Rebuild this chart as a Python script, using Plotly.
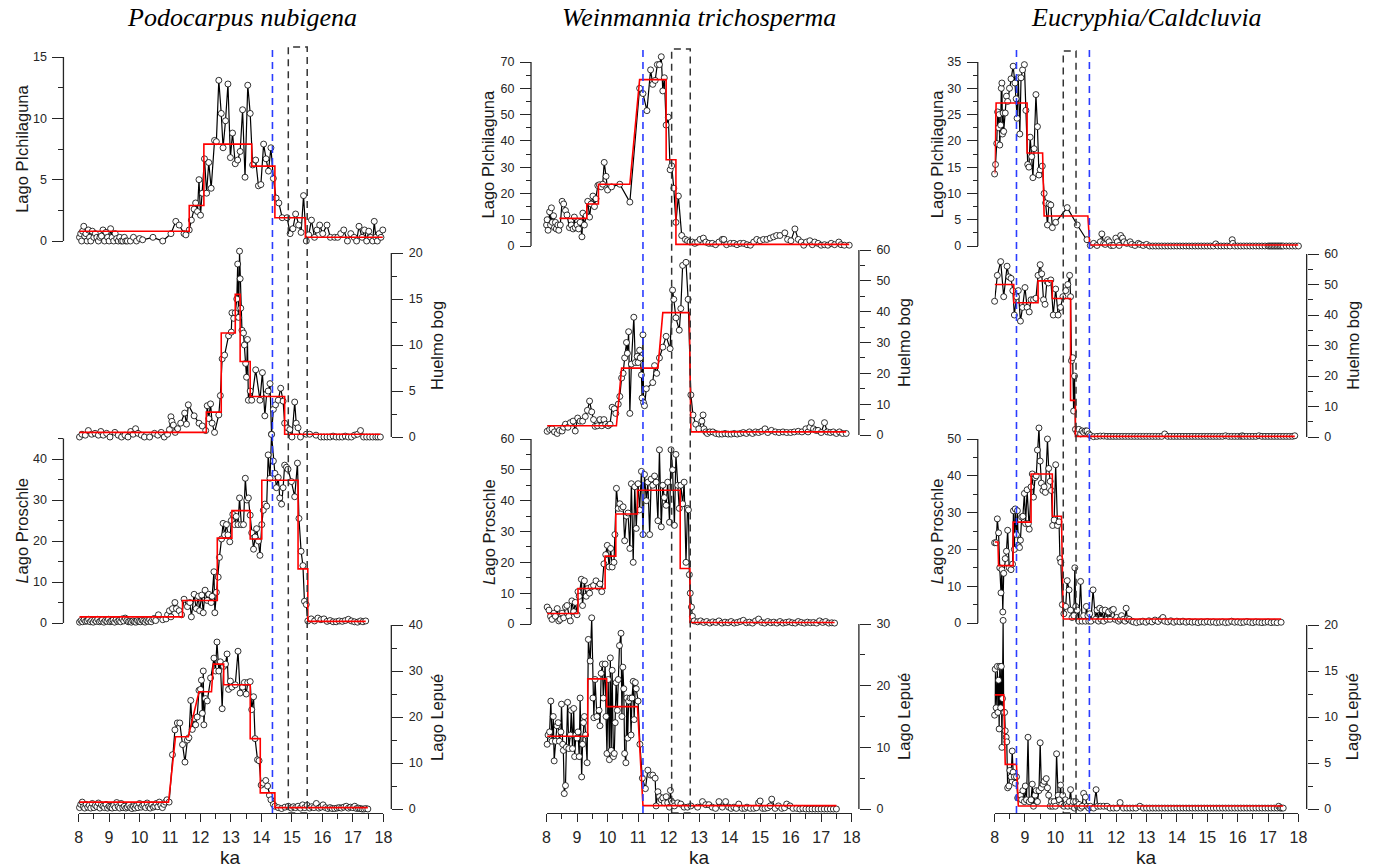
import plotly.graph_objects as go

W, H = 1384, 868

# ------------------------------------------------------------------ data
# (age ka, percent) pairs
pod_pich = [(8.03,0.3),(8.07,0.6),(8.10,0),(8.13,0.8),(8.17,1.2),(8.20,0.4),(8.24,0.6),(8.28,0),(8.32,0.9),(8.36,0.3),
 (8.40,0),(8.45,0.8),(8.50,0.3),(8.55,0.6),(8.60,0.3),(8.65,0),(8.70,0.3),(8.75,0.4),(8.80,0.9),(8.85,0),
 (8.90,0.7),(8.95,0.3),(9.00,0),(9.05,1.0),(9.10,0.3),(9.15,0),(9.20,0.6),(9.25,0.2),(9.30,0),(9.35,0.3),
 (9.40,0),(9.45,0),(9.50,0.3),(9.55,0),(9.60,0),(9.70,0),(9.80,0.3),(9.90,0),(10.00,0.2),(10.10,0.1),
 (10.44,0.3),(10.76,0),(11.03,0.6),(11.19,1.6),(11.30,1.3),(11.46,0.6),(11.52,0.5),(11.63,0.9),(11.70,1.7),(11.79,2.6),
 (11.84,3.1),(11.90,2.4),(11.95,5.0),(12.00,2.1),(12.06,3.9),(12.13,6.7),(12.20,3.9),(12.27,6.4),(12.35,4.3),(12.46,8.2),
 (12.52,8.1),(12.60,13.1),(12.68,10.4),(12.74,7.6),(12.82,9.8),(12.90,12.8),(12.98,6.8),(13.05,8.8),(13.14,6.3),(13.22,6.6),
 (13.30,7.3),(13.38,10.7),(13.46,5.2),(13.55,12.7),(13.63,10.4),(13.71,6.2),(13.81,6.6),(13.90,4.5),(13.98,4.6),(14.07,7.9),
 (14.15,6.7),(14.23,5.7),(14.31,7.6),(14.39,5.1),(14.48,3.5),(14.57,3.1),(14.68,1.9),(14.84,1.9),(14.94,0.6),(15.03,1.0),
 (15.12,2.2),(15.22,1.3),(15.30,0.7),(15.38,3.7),(15.47,0),(15.55,0.5),(15.64,1.7),(15.74,0.3),(15.82,0.9),(15.91,1.3),
 (16.01,0.6),(16.15,1.3),(16.26,0.3),(16.40,0.3),(16.50,0.3),(16.60,0.6),(16.70,0.9),(16.82,0),(16.93,0.6),(17.04,0.3),
 (17.12,0),(17.20,1.2),(17.30,0.3),(17.38,0.9),(17.45,0),(17.52,0.8),(17.58,0.3),(17.65,0),(17.70,1.6),(17.75,0.3),
 (17.80,0),(17.86,0.6),(17.92,0.3),(17.98,0.9)]
pod_pich_zone = [(8.03,0.8),(11.63,0.8),(11.63,2.9),(12.11,2.9),(12.11,7.9),(13.68,7.9),(13.68,6.1),(14.44,6.1),
 (14.44,1.9),(15.44,1.9),(15.44,0.3),(17.98,0.3)]

pod_huel = [(8.03,0),(8.11,0.3),(8.22,0.2),(8.32,0.7),(8.43,0.3),(8.54,0.4),(8.65,0.2),(8.73,0.6),(8.81,0.2),(8.92,0.4),
 (9.03,0),(9.19,0.5),(9.30,0.2),(9.41,0),(9.52,0.2),(9.62,0),(9.71,0.6),(9.79,0.3),(9.87,0.9),(9.95,0.4),
 (10.06,0.2),(10.16,0),(10.33,0),(10.49,0.4),(10.60,0.2),(10.71,0.5),(10.81,0),(10.92,0.3),(10.98,0.8),(11.03,2.2),
 (11.06,1.7),(11.11,1.3),(11.17,0.5),(11.25,0.9),(11.35,1.5),(11.48,2.6),(11.54,1.4),(11.60,3.5),(11.79,2.3),(11.95,1.5),
 (12.06,1.2),(12.17,0.7),(12.22,3.4),(12.27,2.0),(12.33,3.6),(12.38,1.5),(12.46,0.5),(12.60,2.4),(12.65,4.5),(12.71,8.5),
 (12.79,8.9),(12.92,11.0),(13.01,11.4),(13.03,13.5),(13.09,12.9),(13.14,13.5),(13.19,15.0),(13.22,18.8),(13.25,13.0),(13.28,20.2),
 (13.30,17.2),(13.32,14.0),(13.36,11.6),(13.41,11.3),(13.44,10.0),(13.48,8.0),(13.51,6.5),(13.54,10.6),(13.57,4.0),(13.63,5.0),
 (13.68,4.0),(13.81,7.3),(13.95,4.0),(14.03,7.0),(14.11,2.3),(14.17,4.7),(14.22,5.0),(14.28,5.8),(14.33,0.3),(14.39,3.0),
 (14.46,3.5),(14.55,4.0),(14.63,5.3),(14.71,3.9),(14.76,1.5),(14.85,1.0),(14.93,0.8),(15.00,0),(15.09,3.8),(15.14,1.5),
 (15.20,1.0),(15.28,0),(15.47,0.3),(15.58,0.3),(15.79,0.2),(15.95,0),(16.05,0),(16.15,0),(16.25,0),(16.35,0.1),
 (16.45,0),(16.55,0),(16.65,0),(16.75,0.1),(16.85,0),(16.95,0),(17.05,0.2),(17.15,0.3),(17.25,0.7),(17.35,0),
 (17.45,0),(17.55,0),(17.65,0),(17.75,0),(17.82,0),(17.90,0)]
pod_huel_zone = [(8.03,0.5),(12.19,0.5),(12.19,2.7),(12.68,2.7),(12.68,11.3),(13.14,11.3),(13.14,15.5),(13.30,15.5),
 (13.30,8.2),(13.63,8.2),(13.63,4.4),(14.76,4.4),(14.76,0.3),(17.90,0.3)]

pod_pros = [(8.03,0.2),(8.08,0.6),(8.13,0.3),(8.18,0.8),(8.23,0.4),(8.28,0.5),(8.33,0.9),(8.38,0.3),(8.43,0.6),(8.48,0.2),
 (8.53,0.7),(8.58,0.4),(8.63,0.9),(8.68,0.3),(8.73,0.5),(8.78,0.8),(8.83,0.2),(8.88,0.6),(8.93,0.4),(8.98,0.9),
 (9.03,0.3),(9.08,0.5),(9.13,0.7),(9.18,0.2),(9.23,0.8),(9.28,0.4),(9.33,0.6),(9.38,0.3),(9.43,1.0),(9.48,0.5),
 (9.53,1.2),(9.58,0.6),(9.63,0.3),(9.68,0.4),(9.73,0.2),(9.78,0.5),(9.83,0.3),(9.88,0.2),(9.93,0.6),(9.98,0.4),
 (10.03,0.3),(10.08,0.7),(10.13,0.5),(10.18,0.2),(10.23,0.6),(10.28,0.4),(10.33,0.8),(10.38,0.3),(10.43,0.9),(10.48,1.1),
 (10.53,0.6),(10.62,2.0),(10.76,0.8),(10.87,1.0),(10.92,2.0),(10.98,3.0),(11.03,1.5),(11.08,3.5),(11.16,5.0),(11.21,3.5),
 (11.30,3.0),(11.38,2.0),(11.46,5.8),(11.57,4.0),(11.65,5.0),(11.70,1.5),(11.79,7.0),(11.86,3.5),(11.93,6.5),(11.97,3.0),
 (12.04,6.8),(12.09,2.5),(12.15,8.0),(12.22,5.5),(12.27,7.0),(12.35,5.0),(12.38,6.5),(12.44,12.5),(12.47,2.5),(12.52,7.5),
 (12.58,11.2),(12.62,16.0),(12.69,20.5),(12.74,24.3),(12.79,21.5),(12.85,24.0),(12.90,21.5),(12.96,19.8),(13.01,25.0),(13.06,26.5),
 (13.12,24.0),(13.17,26.0),(13.23,24.0),(13.28,30.5),(13.34,24.0),(13.41,24.0),(13.47,35.3),(13.52,30.0),(13.57,30.5),(13.63,26.3),
 (13.68,22.0),(13.74,18.0),(13.79,21.0),(13.84,23.0),(13.90,20.0),(13.95,16.5),(14.01,24.0),(14.06,27.5),(14.11,29.0),(14.17,28.5),
 (14.22,41.0),(14.28,35.3),(14.33,46.0),(14.39,39.5),(14.44,36.5),(14.49,33.0),(14.55,35.5),(14.60,30.5),(14.66,29.0),(14.71,33.0),
 (14.76,38.5),(14.82,38.0),(14.87,37.5),(14.98,34.5),(15.09,30.8),(15.18,39.0),(15.23,25.5),(15.30,17.5),(15.36,14.0),(15.41,5.3),
 (15.47,4.5),(15.52,0.5),(15.63,1.0),(15.74,0.5),(15.85,1.2),(15.95,0.8),(16.05,1.0),(16.15,0.4),(16.25,0.6),(16.35,0.3),
 (16.45,0.3),(16.55,0.5),(16.65,0.4),(16.75,0.6),(16.85,0.9),(16.95,0.5),(17.05,0.3),(17.15,0.2),(17.25,0.5),(17.33,0.3),
 (17.42,0.5)]
pod_pros_zone = [(8.03,1.5),(11.41,1.5),(11.41,5.5),(12.55,5.5),(12.55,20.7),(13.03,20.7),(13.03,27.4),(13.63,27.4),
 (13.63,20.5),(14.01,20.5),(14.01,34.8),(15.20,34.8),(15.20,13.2),(15.52,13.2),(15.52,0.4),(17.42,0.4)]

pod_lepu = [(8.03,0.3),(8.07,1.0),(8.12,1.5),(8.16,0.5),(8.20,0.2),(8.25,1.0),(8.30,0.4),(8.35,0.8),(8.40,0.2),(8.45,1.2),
 (8.50,0.3),(8.55,0.8),(8.60,0.5),(8.65,1.3),(8.70,0.2),(8.75,0.9),(8.80,0.6),(8.85,0.3),(8.90,1.0),(8.95,0.2),
 (9.00,0.6),(9.05,0.4),(9.10,0.2),(9.15,0.8),(9.20,0.3),(9.25,1.4),(9.30,0.5),(9.35,0.2),(9.40,1.2),(9.45,0.3),
 (9.50,0.6),(9.55,0.2),(9.60,0.4),(9.65,0.8),(9.70,0.3),(9.75,0.1),(9.80,0.5),(9.85,0.2),(9.90,0.7),(9.95,0.3),
 (10.00,1.2),(10.05,0.4),(10.10,0.8),(10.15,1.0),(10.20,0.3),(10.25,1.3),(10.30,0.5),(10.35,0.2),(10.40,0.9),(10.45,0.4),
 (10.50,0.6),(10.55,1.2),(10.60,0.5),(10.65,1.5),(10.70,0.8),(10.75,0.3),(10.80,1.0),(10.85,1.5),(10.90,2.0),(10.97,1.5),
 (11.08,11.8),(11.16,17.2),(11.24,18.7),(11.32,18.7),(11.41,14.0),(11.49,10.2),(11.57,15.0),(11.62,15.5),(11.68,23.6),(11.73,17.3),
 (11.79,19.7),(11.84,18.3),(11.89,20.0),(11.95,25.8),(12.00,26.0),(12.03,28.0),(12.06,20.8),(12.09,30.0),(12.11,18.3),(12.16,24.0),
 (12.22,23.5),(12.33,28.5),(12.44,32.8),(12.49,30.0),(12.54,36.3),(12.60,30.0),(12.65,32.0),(12.71,21.8),(12.76,31.0),(12.82,31.5),
 (12.87,33.7),(12.92,26.0),(12.98,27.8),(13.03,26.5),(13.14,27.0),(13.23,34.3),(13.30,25.2),(13.38,26.5),(13.44,27.5),(13.50,25.0),
 (13.55,27.5),(13.63,27.7),(13.68,21.6),(13.74,24.4),(13.79,15.3),(13.87,10.7),(13.92,10.5),(13.99,5.2),(14.06,5.6),(14.14,6.2),
 (14.20,5.0),(14.26,3.0),(14.31,2.0),(14.39,1.0),(14.44,0.6),(14.55,0.3),(14.66,0.1),(14.77,0.4),(14.88,0.6),(14.98,0.2),
 (15.05,0.5),(15.12,0.3),(15.20,0.6),(15.28,0.2),(15.35,0.9),(15.42,0.3),(15.50,0.8),(15.58,0.2),(15.65,0.5),(15.72,0.3),
 (15.80,1.2),(15.88,0.2),(15.95,0.4),(16.02,0.9),(16.10,0.3),(16.18,0.1),(16.25,0.3),(16.32,0.1),(16.40,0.1),(16.48,0.2),
 (16.55,0.3),(16.62,0.2),(16.70,0.4),(16.78,0.6),(16.85,0.2),(16.92,0.4),(17.00,0.3),(17.06,0.6),(17.12,0.1),(17.18,0.2),
 (17.24,0.1),(17.30,0),(17.36,0),(17.42,0.1),(17.49,0)]
pod_lepu_zone = [(8.03,1.5),(10.95,1.5),(11.18,15.7),(11.60,15.7),(11.95,25.5),(12.36,25.5),(12.42,31.5),(12.76,31.5),
 (12.76,27.0),(13.63,27.0),(13.63,15.3),(13.96,15.3),(13.96,3.5),(14.44,3.5),(14.44,0.3),(17.49,0.3)]

wei_pich = [(8.00,8),(8.02,10),(8.05,6),(8.10,13),(8.13,8),(8.16,14.5),(8.19,9),(8.23,11.5),(8.26,7),(8.29,9),
 (8.32,6.5),(8.37,8),(8.40,6),(8.45,8),(8.51,17),(8.56,16),(8.62,13.5),(8.67,11.8),(8.75,7),(8.81,8),
 (8.87,6.5),(8.91,11),(8.94,7),(9.00,8),(9.05,6.5),(9.10,9),(9.16,3.5),(9.19,12.5),(9.24,8),(9.30,11.5),
 (9.35,17),(9.41,11),(9.46,16),(9.52,19),(9.57,15),(9.62,18),(9.68,23),(9.73,23.3),(9.79,22.5),(9.84,23.5),
 (9.89,31.8),(9.95,26.5),(10.00,21.3),(10.13,22.5),(10.40,23.5),(10.73,16.7),(11.05,60),(11.16,58),(11.29,51.5),(11.41,67),
 (11.48,61.5),(11.56,63),(11.63,69),(11.70,69),(11.76,72),(11.81,59),(11.86,64),(11.92,46),(11.99,49),(12.05,29),
 (12.10,30.5),(12.17,22),(12.24,9),(12.32,19),(12.43,4),(12.55,2.5),(12.62,2),(12.70,1.5),(12.78,1.5),(12.86,1),
 (12.95,1.5),(13.03,2.5),(13.14,3),(13.22,1.5),(13.32,1),(13.43,1),(13.54,0.5),(13.65,1.5),(13.76,2.5),(13.81,2.5),
 (13.90,0.5),(14.03,1),(14.14,1),(14.24,0.5),(14.35,1),(14.46,1),(14.57,0.5),(14.68,0.3),(14.79,1.5),(14.89,2.5),
 (15.00,2),(15.11,2.5),(15.22,2.5),(15.33,3),(15.44,3.5),(15.54,4),(15.65,4),(15.81,5),(15.90,2.5),(16.01,2),
 (16.14,6.5),(16.25,2.5),(16.35,1.5),(16.43,0.3),(16.52,1.5),(16.63,2),(16.71,0.5),(16.79,1.5),(16.90,1),(17.00,0.3),
 (17.11,0.5),(17.22,0.3),(17.33,1),(17.44,0.5),(17.58,1.5),(17.65,0.5),(17.76,0.3),(17.92,0.3)]
wei_pich_zone = [(8.42,10.5),(9.32,10.5),(9.32,16.0),(9.70,16.0),(9.70,23.5),(10.73,23.5),(11.05,63.3),(11.92,63.3),
 (11.92,32.8),(12.24,32.8),(12.24,0.6),(17.92,0.6)]

wei_huel = [(8.02,1.2),(8.10,1.8),(8.18,2.0),(8.26,1.0),(8.35,0.5),(8.42,1.5),(8.51,1.3),(8.56,2.5),(8.62,3.5),(8.70,2.5),
 (8.78,4.0),(8.87,4.5),(8.94,1.3),(9.02,5.5),(9.10,4.5),(9.18,4.5),(9.27,6.0),(9.34,8.0),(9.41,11.0),(9.48,7.5),
 (9.54,5.0),(9.59,2.8),(9.67,3.0),(9.75,5.0),(9.81,3.0),(9.88,5.0),(9.94,3.5),(10.02,3.0),(10.08,3.5),(10.15,9.0),
 (10.22,8.5),(10.27,7.0),(10.35,10.0),(10.40,12.5),(10.46,18.5),(10.51,20.0),(10.56,25.0),(10.62,30.0),(10.65,26.5),(10.69,33.5),
 (10.73,7.0),(10.78,23.0),(10.86,38.2),(10.91,23.5),(10.97,25.5),(11.00,23.5),(11.05,27.5),(11.07,25.0),(11.11,19.5),(11.13,12.0),
 (11.16,32.5),(11.18,10.5),(11.21,9.5),(11.27,15.0),(11.48,17.0),(11.54,22.5),(11.61,20.0),(11.70,25.0),(11.81,28.5),(11.92,32.0),
 (12.05,28.0),(12.13,47.0),(12.17,44.0),(12.24,38.0),(12.35,34.0),(12.40,41.0),(12.46,55.0),(12.57,56.0),(12.64,44.0),(12.73,13.0),
 (12.80,6.5),(12.89,3.5),(12.99,2.0),(13.09,4.5),(13.13,6.5),(13.16,2.0),(13.22,1.0),(13.27,0.5),(13.35,1.0),(13.45,1.0),
 (13.55,0.5),(13.65,0.3),(13.75,0.3),(13.85,0.5),(13.95,0.3),(14.05,0.3),(14.15,0.5),(14.25,0.3),(14.35,0.5),(14.45,0.8),
 (14.55,0.5),(14.65,1.0),(14.75,0.5),(14.85,1.0),(14.95,0.8),(15.05,1.2),(15.16,2.0),(15.25,0.8),(15.37,1.5),(15.50,1.0),
 (15.62,0.8),(15.75,1.0),(15.87,0.8),(16.00,0.8),(16.12,1.0),(16.25,1.2),(16.37,1.0),(16.50,2.0),(16.57,1.0),(16.63,2.5),
 (16.68,4.0),(16.75,2.0),(16.83,1.5),(16.90,1.5),(17.00,0.8),(17.11,4.0),(17.20,1.0),(17.30,0.8),(17.40,1.0),(17.50,0.5),
 (17.60,1.0),(17.70,0.5),(17.82,0.5)]
wei_huel_zone = [(8.02,3.0),(10.29,3.0),(10.46,21.7),(11.65,21.7),(11.81,39.7),(12.68,39.7),(12.73,1.0),(17.82,1.0)]

wei_pros = [(8.02,5.5),(8.08,4.5),(8.13,2.5),(8.18,1.5),(8.24,3.5),(8.29,2.5),(8.35,5.0),(8.40,1.0),(8.45,1.5),(8.51,3.5),
 (8.56,2.0),(8.62,5.5),(8.67,6.0),(8.73,2.5),(8.78,1.0),(8.83,7.5),(8.89,4.0),(8.94,7.0),(9.00,3.0),(9.03,10.5),
 (9.07,9.0),(9.14,14.5),(9.18,6.0),(9.24,14.0),(9.30,9.0),(9.35,11.5),(9.41,10.0),(9.46,12.0),(9.54,12.5),(9.62,14.0),
 (9.70,12.0),(9.75,13.0),(9.81,10.5),(9.88,19.5),(9.94,22.5),(9.99,25.5),(10.05,18.5),(10.10,24.5),(10.15,18.5),(10.21,20.0),
 (10.24,29.0),(10.29,44.0),(10.35,37.5),(10.40,39.0),(10.46,37.5),(10.51,38.0),(10.56,27.0),(10.62,35.0),(10.67,36.0),(10.73,24.5),
 (10.78,45.5),(10.84,20.0),(10.89,44.5),(10.94,31.0),(11.00,45.5),(11.05,37.0),(11.11,49.5),(11.16,29.0),(11.21,48.5),(11.27,40.0),
 (11.32,46.0),(11.38,29.0),(11.43,47.0),(11.48,45.0),(11.54,48.0),(11.59,46.0),(11.65,33.5),(11.70,56.5),(11.76,31.5),(11.81,45.0),
 (11.86,41.0),(11.92,38.5),(11.97,46.0),(12.03,33.0),(12.08,56.5),(12.13,50.0),(12.19,32.0),(12.24,55.0),(12.30,45.0),(12.35,37.5),
 (12.40,45.0),(12.46,39.0),(12.51,46.0),(12.57,20.0),(12.62,37.5),(12.65,37.0),(12.68,16.0),(12.71,10.0),(12.75,5.5),(12.78,2.5),
 (12.84,1.0),(12.95,0.7),(13.05,1.0),(13.15,0.5),(13.25,0.8),(13.35,0.3),(13.45,0.7),(13.55,0.5),(13.65,1.0),(13.75,0.3),
 (13.85,0.6),(13.95,0.4),(14.05,0.8),(14.15,0.3),(14.25,0.5),(14.35,0.8),(14.45,1.2),(14.55,0.4),(14.65,0.6),(14.75,0.3),
 (14.85,1.0),(14.95,1.6),(15.05,0.5),(15.15,0.3),(15.25,0.8),(15.35,0.4),(15.45,0.6),(15.55,0.3),(15.65,0.8),(15.75,0.3),
 (15.85,0.5),(15.95,0.7),(16.05,0.4),(16.15,0.3),(16.25,0.8),(16.35,0.5),(16.45,0.3),(16.55,0.6),(16.65,0.4),(16.75,0.5),
 (16.85,0.3),(16.95,1.0),(17.05,0.5),(17.15,0.8),(17.25,0.3),(17.35,0.4),(17.44,0.3)]
wei_pros_zone = [(8.02,3.4),(9.03,3.4),(9.03,11.5),(9.92,11.5),(9.92,22.0),(10.27,22.0),(10.27,35.7),(10.98,35.7),
 (10.98,43.4),(12.38,43.4),(12.38,18.0),(12.70,18.0),(12.70,0.5),(17.44,0.5)]

wei_lepu = [(8.02,10.5),(8.05,12.0),(8.10,12.5),(8.14,17.5),(8.18,11.0),(8.22,15.0),(8.25,7.8),(8.29,11.0),(8.34,13.5),(8.38,14.0),
 (8.42,11.0),(8.47,12.5),(8.49,17.0),(8.53,10.5),(8.55,9.5),(8.58,2.5),(8.62,3.8),(8.65,10.0),(8.69,17.3),(8.73,9.8),
 (8.78,12.0),(8.81,16.0),(8.85,9.8),(8.89,16.3),(8.92,8.5),(8.96,12.0),(9.00,11.5),(9.03,12.5),(9.07,8.5),(9.10,18.0),
 (9.15,5.2),(9.18,10.5),(9.21,14.0),(9.24,15.0),(9.28,12.0),(9.33,7.5),(9.37,27.5),(9.43,24.0),(9.48,31.0),(9.52,18.0),
 (9.55,14.8),(9.59,21.0),(9.65,15.0),(9.72,16.0),(9.75,13.5),(9.79,22.0),(9.83,23.5),(9.86,18.0),(9.92,23.5),(9.95,15.0),
 (9.98,9.0),(10.02,21.0),(10.06,8.0),(10.09,24.5),(10.12,9.5),(10.15,22.5),(10.19,8.5),(10.22,9.0),(10.25,14.0),(10.28,20.5),
 (10.32,16.0),(10.35,21.0),(10.39,26.5),(10.44,28.5),(10.47,15.0),(10.50,23.0),(10.53,19.5),(10.56,9.0),(10.60,7.5),(10.63,18.0),
 (10.66,11.5),(10.69,17.5),(10.74,18.0),(10.77,12.0),(10.80,18.0),(10.84,20.7),(10.87,14.5),(10.91,20.5),(10.94,19.5),(11.00,17.5),
 (11.06,10.5),(11.14,5.0),(11.24,3.3),(11.32,6.3),(11.41,5.5),(11.48,5.5),(11.56,5.0),(11.59,0.5),(11.65,2.8),(11.70,2.0),
 (11.76,1.5),(11.81,1.8),(11.86,1.0),(11.92,2.0),(11.97,1.0),(12.03,0.3),(12.06,3.0),(12.09,1.3),(12.13,1.0),(12.19,0.5),
 (12.30,1.0),(12.40,0.8),(12.51,0.3),(12.62,0.3),(12.73,0.5),(12.95,0.3),(13.11,1.2),(13.22,0.7),(13.32,0.7),(13.43,0.3),
 (13.54,0.1),(13.65,1.2),(13.76,0.3),(13.87,1.2),(13.97,0.3),(14.05,0.1),(14.14,0.3),(14.22,0.1),(14.30,0.8),(14.41,0.1),
 (14.50,0.1),(14.57,0.3),(14.68,0.1),(14.79,0.1),(14.88,0.2),(14.95,1.0),(15.00,1.3),(15.08,0.1),(15.16,0.1),(15.25,0.2),
 (15.33,0.5),(15.38,1.6),(15.49,0.1),(15.60,0.5),(15.71,0.1),(15.80,0.2),(15.87,0.8),(15.98,0.5),(16.08,0.1),(16.20,0.1),
 (16.30,0),(16.40,0.1),(16.50,0),(16.60,0),(16.70,0),(16.80,0),(16.90,0),(17.00,0),(17.10,0),(17.20,0),
 (17.30,0),(17.40,0),(17.50,0)]
wei_lepu_zone = [(8.02,11.8),(9.35,11.8),(9.35,21.1),(9.97,21.1),(9.97,16.6),(10.98,16.6),(11.16,0.55),(17.50,0.55)]

euc_pich = [(8.00,13.7),(8.03,15.5),(8.07,19.5),(8.10,25.5),(8.13,22.5),(8.15,25.0),(8.17,19.2),(8.20,23.0),(8.22,30.0),(8.24,31.0),
 (8.26,21.3),(8.28,25.3),(8.30,21.8),(8.35,25.3),(8.39,28.5),(8.43,27.5),(8.49,30.0),(8.54,31.8),(8.61,34.2),(8.67,31.0),
 (8.71,28.0),(8.74,24.3),(8.78,32.0),(8.83,21.3),(8.87,32.0),(8.92,33.5),(8.98,34.5),(9.03,25.8),(9.09,15.5),(9.13,15.0),
 (9.17,20.7),(9.22,17.0),(9.26,13.0),(9.30,18.5),(9.36,28.8),(9.41,22.7),(9.46,13.5),(9.50,14.5),(9.57,15.2),(9.63,10.0),
 (9.68,8.2),(9.74,4.0),(9.79,8.0),(9.85,7.8),(9.90,3.5),(10.01,4.5),(10.39,7.3),(10.72,4.0),(11.04,1.2),(11.15,0.1),
 (11.26,0.5),(11.37,0.1),(11.48,0.8),(11.53,2.3),(11.59,0.5),(11.64,0.3),(11.72,1.2),(11.77,0.8),(11.83,0.1),(11.91,0.1),
 (11.99,1.5),(12.04,0.8),(12.10,0.1),(12.15,2.0),(12.21,1.5),(12.26,0.8),(12.35,0.5),(12.46,0.8),(12.51,0.3),(12.62,0.1),
 (12.73,0.5),(12.78,0.3),(12.89,0.1),(13.00,0.3),(13.10,0),(13.20,0),(13.30,0),(13.40,0),(13.50,0),(13.60,0),
 (13.70,0),(13.80,0),(13.90,0),(14.00,0),(14.10,0),(14.20,0),(14.30,0),(14.40,0),(14.50,0),(14.60,0),
 (14.70,0),(14.80,0),(14.90,0),(15.00,0),(15.10,0),(15.20,0),(15.28,0.4),(15.35,0),(15.45,0),(15.55,0),
 (15.65,0),(15.75,0),(15.82,1.2),(15.84,0.5),(15.90,0),(16.00,0),(16.10,0),(16.20,0),(16.30,0),(16.40,0),
 (16.50,0),(16.60,0),(16.70,0),(16.80,0),(16.90,0),(17.00,0),(17.05,0),(17.10,0),(17.15,0),(17.20,0),
 (17.25,0),(17.30,0),(17.35,0),(17.40,0),(17.45,0),(17.50,0),(17.60,0),(17.70,0),(17.80,0),(17.90,0),
 (18.00,0)]
euc_pich_zone = [(8.00,13.8),(8.05,27.2),(9.07,27.2),(9.07,17.7),(9.58,17.7),(9.63,5.7),(11.07,5.7),(11.13,0.2),(18.00,0.2)]

euc_huel = [(8.00,44.5),(8.09,53.0),(8.20,57.5),(8.30,46.0),(8.41,56.0),(8.47,52.5),(8.54,52.0),(8.60,48.0),(8.65,40.0),(8.72,46.0),
 (8.78,48.0),(8.85,38.0),(8.92,42.5),(9.00,49.0),(9.07,42.5),(9.14,41.0),(9.20,45.0),(9.28,45.0),(9.36,45.5),(9.43,53.0),
 (9.50,56.5),(9.55,53.5),(9.61,45.0),(9.66,43.5),(9.72,51.0),(9.77,50.5),(9.85,51.5),(9.93,40.0),(10.01,48.5),(10.09,40.0),
 (10.17,42.5),(10.25,46.0),(10.34,48.0),(10.41,50.0),(10.47,53.0),(10.50,46.0),(10.53,25.0),(10.57,26.0),(10.60,8.5),(10.63,20.0),
 (10.66,2.5),(10.72,1.5),(10.77,2.5),(10.83,1.0),(10.88,2.0),(10.93,1.5),(10.99,2.0),(11.04,2.0),(11.10,1.0),(11.15,0.5),
 (11.26,0.1),(11.37,0.2),(11.48,0.3),(11.59,0.3),(11.70,0.2),(11.80,0.2),(11.90,0.2),(12.00,0.2),(12.10,0.2),(12.20,0.2),
 (12.30,0.2),(12.40,0.2),(12.50,0.2),(12.60,0.2),(12.70,0.2),(12.80,0.2),(12.90,0.2),(13.00,0.2),(13.10,0.2),(13.20,0.2),
 (13.30,0.2),(13.40,0.2),(13.50,0.2),(13.60,1.0),(13.70,0.2),(13.80,0.2),(13.90,0.2),(14.00,0.2),(14.10,0.2),(14.20,0.2),
 (14.30,0.2),(14.40,0.2),(14.50,0.2),(14.60,0.2),(14.70,0.2),(14.80,0.2),(14.90,0.2),(15.00,0.2),(15.10,0.2),(15.20,0.2),
 (15.30,0.2),(15.40,0.2),(15.50,0.2),(15.60,0.4),(15.70,0.2),(15.80,0.2),(15.90,0.2),(16.00,0.2),(16.10,0.2),(16.15,0.4),
 (16.20,0.2),(16.30,0.2),(16.40,0.2),(16.50,0.2),(16.60,0.2),(16.70,0.4),(16.80,0.2),(16.90,0.2),(17.00,0.2),(17.10,0.2),
 (17.20,0.2),(17.30,0.2),(17.40,0.2),(17.50,0.2),(17.60,0.2),(17.70,0.2),(17.80,0.2),(17.88,0.4)]
euc_huel_zone = [(8.00,50.0),(8.63,50.0),(8.63,44.0),(9.43,44.0),(9.43,51.2),(9.90,51.2),(9.90,45.4),(10.50,45.4),
 (10.50,12.0),(10.66,12.0),(10.66,0.2),(17.88,0.2)]

euc_pros = [(8.00,21.8),(8.05,21.8),(8.09,28.3),(8.13,24.5),(8.17,15.0),(8.21,8.2),(8.24,14.5),(8.27,3.0),(8.30,13.5),(8.35,17.5),
 (8.39,19.5),(8.43,25.2),(8.48,15.0),(8.54,14.5),(8.59,16.0),(8.62,30.5),(8.65,20.0),(8.68,31.0),(8.72,24.0),(8.75,30.5),
 (8.78,21.0),(8.82,20.5),(8.85,22.5),(8.89,28.8),(8.93,29.0),(8.98,35.2),(9.02,27.0),(9.07,36.2),(9.11,27.0),(9.14,25.5),
 (9.20,37.0),(9.24,40.5),(9.28,34.2),(9.33,39.5),(9.37,40.0),(9.41,47.0),(9.46,53.0),(9.50,44.0),(9.54,38.0),(9.59,36.0),
 (9.63,37.0),(9.67,35.5),(9.74,50.0),(9.78,42.0),(9.83,38.5),(9.87,36.0),(9.91,26.5),(9.96,28.0),(10.01,43.0),(10.07,26.5),
 (10.12,27.5),(10.15,17.5),(10.18,16.5),(10.23,5.0),(10.28,2.5),(10.34,4.5),(10.39,11.5),(10.45,9.0),(10.50,3.5),(10.55,1.5),
 (10.61,2.0),(10.64,15.0),(10.67,4.5),(10.72,3.5),(10.77,0.5),(10.83,11.3),(10.88,0.5),(10.93,2.0),(10.99,0.5),(11.02,4.5),
 (11.07,2.0),(11.10,0.5),(11.13,2.5),(11.17,0.5),(11.24,9.0),(11.32,1.0),(11.37,3.5),(11.42,0.5),(11.46,4.0),(11.50,1.0),
 (11.54,3.5),(11.59,0.5),(11.64,3.5),(11.70,1.0),(11.75,3.0),(11.80,1.0),(11.86,3.5),(11.91,3.7),(11.97,1.0),(12.02,1.5),
 (12.08,0.5),(12.13,1.0),(12.18,2.0),(12.24,1.0),(12.29,0.5),(12.33,4.0),(12.37,1.2),(12.43,1.0),(12.51,0.5),(12.57,0.3),
 (12.67,0.1),(12.78,0.3),(12.88,0.5),(12.98,0.2),(13.08,0.6),(13.18,0.3),(13.28,0.8),(13.38,0.4),(13.48,1.0),(13.54,1.5),
 (13.60,0.5),(13.70,0.3),(13.80,0.6),(13.90,0.2),(14.00,0.5),(14.10,0.3),(14.20,0.5),(14.30,0.2),(14.40,0.4),(14.50,0.2),
 (14.60,0.3),(14.70,0.1),(14.80,0.3),(14.90,0.2),(15.00,0.4),(15.10,0.2),(15.20,0.3),(15.30,0.1),(15.40,0.2),(15.50,0.3),
 (15.60,0.1),(15.70,0.2),(15.80,0.5),(15.90,0.2),(16.00,0.3),(16.10,0.1),(16.20,0.2),(16.30,0.4),(16.40,0.2),(16.50,0.1),
 (16.60,0.3),(16.70,0.2),(16.80,0.1),(16.90,0.2),(17.00,0.3),(17.10,0.1),(17.20,0.2),(17.30,0.1),(17.43,0.2)]
euc_pros_zone = [(8.00,22.0),(8.11,22.0),(8.13,15.6),(8.61,15.6),(8.61,27.4),(9.20,27.4),(9.20,40.5),(9.90,40.5),
 (9.90,29.0),(10.20,29.0),(10.26,1.1),(17.43,1.1)]

euc_lepu = [(8.00,10.2),(8.02,15.2),(8.05,11.0),(8.09,15.5),(8.11,10.5),(8.13,14.0),(8.15,8.7),(8.17,15.5),(8.20,11.0),(8.22,15.5),
 (8.24,6.7),(8.26,12.0),(8.28,20.5),(8.30,10.5),(8.33,10.5),(8.35,8.5),(8.38,7.8),(8.40,7.3),(8.43,2.3),(8.47,2.5),
 (8.50,4.2),(8.54,3.5),(8.58,6.3),(8.61,4.0),(8.65,3.5),(8.68,2.8),(8.72,3.5),(8.76,1.2),(8.80,1.2),(8.85,1.5),
 (8.89,1.0),(8.93,2.0),(8.98,0.8),(9.01,2.5),(9.05,1.0),(9.10,7.8),(9.14,0.8),(9.20,1.0),(9.24,2.7),(9.28,0.3),
 (9.33,1.5),(9.37,2.0),(9.41,0.8),(9.46,2.0),(9.50,7.2),(9.54,2.3),(9.59,2.7),(9.63,3.0),(9.70,3.3),(9.74,2.3),
 (9.78,1.5),(9.83,0.3),(9.87,0.8),(9.91,0.3),(9.96,0.8),(10.00,0.3),(10.04,6.0),(10.09,1.5),(10.13,1.0),(10.17,2.6),
 (10.21,0.5),(10.24,1.5),(10.28,0.3),(10.33,1.0),(10.37,0.5),(10.41,0.3),(10.46,0.8),(10.50,2.1),(10.54,0.3),(10.59,0.8),
 (10.63,0.1),(10.67,0.8),(10.72,0.3),(10.78,0.5),(10.83,0.1),(10.88,0.3),(10.93,1.7),(10.99,1.3),(11.04,0.3),(11.10,0.1),
 (11.15,0.3),(11.26,0.1),(11.34,2.1),(11.39,0.3),(11.48,0.3),(11.59,0.3),(11.70,0.3),(11.80,0.1),(11.91,0.1),(12.02,0.1),
 (12.13,0.7),(12.24,0.1),(12.35,0.1),(12.45,0.1),(12.55,0.1),(12.65,0.1),(12.78,0.3),(12.90,0.1),(13.00,0.1),(13.10,0.1),
 (13.20,0.1),(13.30,0.1),(13.40,0.1),(13.50,0.1),(13.60,0.1),(13.70,0.1),(13.80,0.1),(13.90,0.1),(14.00,0.1),(14.10,0.1),
 (14.20,0.1),(14.30,0.1),(14.40,0.1),(14.50,0.1),(14.60,0.1),(14.70,0.1),(14.80,0.1),(14.90,0.1),(15.00,0.1),(15.10,0.1),
 (15.20,0.1),(15.30,0.1),(15.40,0.1),(15.50,0.1),(15.60,0.1),(15.70,0.1),(15.80,0.1),(15.90,0.1),(16.00,0.1),(16.10,0.1),
 (16.20,0.1),(16.30,0.1),(16.40,0.1),(16.50,0.1),(16.60,0.1),(16.70,0.1),(16.80,0.1),(16.90,0.1),(17.00,0.1),(17.10,0.1),
 (17.20,0.1),(17.30,0.1),(17.35,0.3),(17.40,0.1),(17.45,0.1),(17.50,0.1)]
euc_lepu_zone = [(8.00,12.4),(8.30,12.4),(8.35,4.85),(8.72,4.85),(8.78,0.33),(17.50,0.33)]

# taxa (columns) and sites (rows)
taxa = ["Podocarpus nubigena", "Weinmannia trichosperma", "Eucryphia/Caldcluvia"]
sites = ["Lago PIchilaguna", "Huelmo bog", "<i>L</i>ago Proschle", "Lago Lepué"]
series = [[pod_pich, pod_huel, pod_pros, pod_lepu],
          [wei_pich, wei_huel, wei_pros, wei_lepu],
          [euc_pich, euc_huel, euc_pros, euc_lepu]]
zones = [[pod_pich_zone, pod_huel_zone, pod_pros_zone, pod_lepu_zone],
         [wei_pich_zone, wei_huel_zone, wei_pros_zone, wei_lepu_zone],
         [euc_pich_zone, euc_huel_zone, euc_pros_zone, euc_lepu_zone]]
# y-axis: top tick, labelled-tick step, minor-tick step
y_top = [[15, 20, 45, 40], [70, 60, 60, 30], [35, 60, 50, 20]]
y_label_step = [[5, 5, 10, 10], [10, 10, 10, 10], [5, 10, 10, 5]]
y_minor_step = [[2.5, 2.5, 5, 5], [5, 5, 5, 5], [2.5, 5, 5, 2.5]]
x_ticks = [8, 9, 10, 11, 12, 13, 14, 15, 16, 17, 18]
x_minor = [8.5, 9.5, 10.5, 11.5, 12.5, 13.5, 14.5, 15.5, 16.5, 17.5]
# event lines (ka)
blue_lines = [[14.36], [11.16], [8.72, 11.12]]
black_box = [[14.88, 15.50], [12.10, 12.71], [10.26, 10.68]]

# ------------------------------------------------------------------ layout geometry (pixels)
col_x8 = [75.3, 547.7, 1000.0]
col_x18 = [383.0, 855.7, 1306.7]
yax_left = [60.0, 532.0, 983.0]
yax_right = [391.0, 863.0, 1315.0]
ylab_left = [18, 489, 942]
ylab_right = [437, 908, 1361]
# (pixel of 0, pixel of reference value, reference value)
row_px = [[(241, 57, 15), (437, 253, 20), (623, 459, 40), (809, 625, 40)],
          [(246, 62, 70), (435, 250, 60), (624, 439, 60), (809, 624, 30)],
          [(246, 62, 35), (437, 254, 60), (623, 439, 50), (809, 625, 20)]]
xaxis_px = 813
title_y = 18
event_top = [47, 49, 51]
blue_top = 50

AX = '#262626'
fig = go.Figure()
layout = dict(width=W, height=H, margin=dict(l=0, r=0, t=0, b=0),
              paper_bgcolor='white', plot_bgcolor='rgba(0,0,0,0)', showlegend=False,
              font=dict(family='Liberation Sans, Arial, sans-serif', color=AX))
shapes = []
annotations = []


def steps(top, step):
    out = []
    v = 0.0
    while v <= top + 1e-9:
        out.append(round(v, 3))
        v += step
    return out


for c in range(3):
    for r in range(4):
        k = c * 4 + r + 1
        xs = 'x' if k == 1 else f'x{k}'
        ys = 'y' if k == 1 else f'y{k}'
        xa = 'xaxis' if k == 1 else f'xaxis{k}'
        ya = 'yaxis' if k == 1 else f'yaxis{k}'
        top = y_top[c][r]
        y0px, yrpx, rv = row_px[c][r]
        s = (y0px - yrpx) / rv
        lo, hi = -0.08 * top, 1.22 * top
        bot_px = y0px - lo * s
        top_px = y0px - hi * s
        dom = [1 - bot_px / H, 1 - top_px / H]
        xdom = [col_x8[c] / W, col_x18[c] / W]
        left = (r % 2 == 0)
        ypos = (yax_left[c] if left else yax_right[c]) / W

        major = steps(top, y_label_step[c][r])
        minor = [v for v in steps(top, y_minor_step[c][r]) if v not in major]
        if r == 3:
            layout[xa] = dict(domain=xdom, range=[8, 18], anchor='free', position=1 - xaxis_px / H,
                              showline=True, linecolor=AX, linewidth=1.3, showgrid=False, zeroline=False,
                              ticks='outside', ticklen=8, tickwidth=1.3, tickcolor=AX,
                              tickmode='array', tickvals=x_ticks, ticktext=[str(t) for t in x_ticks],
                              tickfont=dict(size=16, color=AX), ticklabelstandoff=2,
                              minor=dict(tickmode='array', tickvals=x_minor, ticklen=5, tickwidth=1.3,
                                         tickcolor=AX, ticks='outside', showgrid=False))
        else:
            layout[xa] = dict(domain=xdom, range=[8, 18], anchor=ys, visible=False)
        layout[ya] = dict(domain=dom, range=[lo, hi], anchor='free', position=ypos,
                          side='left' if left else 'right', showline=False, showgrid=False, zeroline=False,
                          ticks='outside', ticklen=11, tickwidth=1.3, tickcolor=AX,
                          tickmode='array', tickvals=major, ticktext=[f'{v:g}' for v in major],
                          tickfont=dict(size=12.5, color=AX), ticklabelstandoff=3,
                          minor=dict(tickmode='array', tickvals=minor, ticklen=5, tickwidth=1.3,
                                     tickcolor=AX, ticks='outside', showgrid=False))
        # spine from 0 to the top tick
        shapes.append(dict(type='line', xref='paper', yref=ys, x0=ypos, x1=ypos, y0=0, y1=top,
                           line=dict(color=AX, width=1.3), layer='above'))

        pts = series[c][r]
        fig.add_trace(go.Scatter(x=[p[0] for p in pts], y=[p[1] for p in pts], xaxis=xs, yaxis=ys,
                                 mode='lines+markers', cliponaxis=False, hoverinfo='skip',
                                 line=dict(color='black', width=1.2),
                                 marker=dict(symbol='circle', size=6, color='white',
                                             line=dict(color='black', width=0.8))))
        z = zones[c][r]
        fig.add_trace(go.Scatter(x=[p[0] for p in z], y=[p[1] for p in z], xaxis=xs, yaxis=ys,
                                 mode='lines', hoverinfo='skip', line=dict(color='#ff0000', width=1.6)))

        # site label, centred on the axis span
        lx = ylab_left[c] if left else ylab_right[c]
        mid_px = y0px - top * s / 2
        annotations.append(dict(text=sites[r], xref='paper', yref='paper', x=lx / W, y=1 - mid_px / H,
                                textangle=-90, showarrow=False, xanchor='center', yanchor='middle',
                                font=dict(size=16.5, color='#1a1a1a', family='Liberation Sans, Arial, sans-serif')))

    # event lines for the column
    xb = f'x{c * 4 + 4}'
    for bx in blue_lines[c]:
        shapes.append(dict(type='line', xref=xb, yref='paper', x0=bx, x1=bx,
                           y0=1 - xaxis_px / H, y1=1 - blue_top / H,
                           line=dict(color='#2a3cff', width=1.6, dash='7px,5px'), layer='above'))
    shapes.append(dict(type='rect', xref=xb, yref='paper', x0=black_box[c][0], x1=black_box[c][1],
                       y0=1 - xaxis_px / H, y1=1 - event_top[c] / H,
                       line=dict(color='#333333', width=1.5, dash='7px,5px'), fillcolor='rgba(0,0,0,0)',
                       layer='above'))
    # titles and x label
    cx = (col_x8[c] + col_x18[c]) / 2
    annotations.append(dict(text=f'<i>{taxa[c]}</i>', xref='paper', yref='paper', x=cx / W + (0.008 if c == 0 else 0),
                            y=1 - title_y / H, showarrow=False, xanchor='center', yanchor='middle',
                            font=dict(size=26, color='black', family='Liberation Serif, Times New Roman, serif')))
    annotations.append(dict(text='ka', xref='paper', yref='paper', x=cx / W, y=1 - 857 / H,
                            showarrow=False, xanchor='center', yanchor='middle',
                            font=dict(size=19, color='#1a1a1a')))

layout['shapes'] = shapes
layout['annotations'] = annotations
fig.update_layout(**layout)
fig.write_html('out.html', config={'displayModeBar': False, 'responsive': False},
               post_script="document.body.style.margin='0px';document.body.style.overflow='hidden';")
